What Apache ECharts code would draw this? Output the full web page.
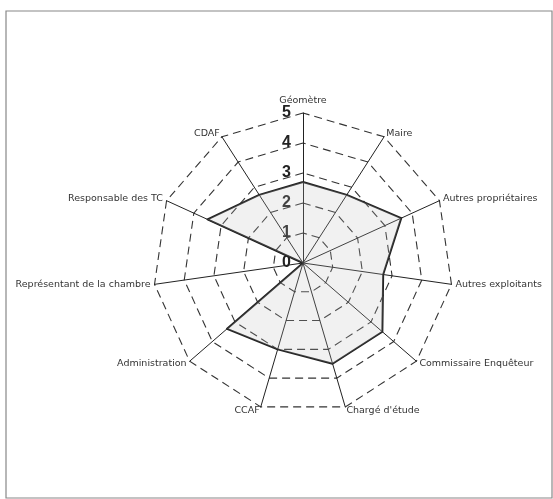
<!DOCTYPE html>
<html>
<head>
<meta charset="utf-8">
<script src="https://cdn.jsdelivr.net/npm/echarts@6/dist/echarts.min.js"></script>
<style>
html,body{margin:0;padding:0;background:#fff;}
#chart{width:553px;height:499px;}
</style>
</head>
<body>
<div id="chart"></div>
<script>
var categories = ["Géomètre", "Maire", "Autres propriétaires", "Autres exploitants", "Commissaire Enquêteur", "Chargé d'étude", "CCAF", "Administration", "Représentant de la chambre", "Responsable des TC", "CDAF"];
var values = [2.7, 2.7, 3.6, 2.7, 3.5, 3.5, 3.0, 3.35, 0, 3.5, 2.7];
var scaleMax = 5;

// ECharts radar runs counter-clockwise; reorder so categories run clockwise
var order = [0];
for (var k = categories.length - 1; k >= 1; k--) order.push(k);

var chart = echarts.init(document.getElementById('chart'), null, {renderer: 'canvas'});

var indicators = order.map(function (i) {
  var ind = {name: categories[i], min: 0, max: scaleMax};
  if (i === 0) {
    ind.axisLabel = {show: true, fontSize: 16, fontWeight: 'bold', color: '#222', fontFamily: 'Liberation Sans', margin: 0, align: 'right', verticalAlign: 'middle', padding: [0, 12, 0, 0]};
  }
  return ind;
});
var orderedValues = order.map(function (i) { return values[i]; });

chart.setOption({
  backgroundColor: '#fff',
  animation: false,
  graphic: [{
    type: 'rect',
    shape: {x: 6, y: 11, width: 546, height: 487},
    style: {fill: 'none', stroke: '#888', lineWidth: 1.2}
  }],
  radar: {
    center: [303, 263],
    radius: 150,
    startAngle: 90,
    splitNumber: 5,
    shape: 'polygon',
    nameGap: 4,
    axisName: {color: '#333', fontSize: 9.5, fontFamily: 'DejaVu Sans'},
    axisLine: {lineStyle: {color: '#222', width: 1}},
    axisTick: {show: false},
    axisLabel: {show: false},
    splitLine: {lineStyle: {color: '#333', width: 1.1, type: [8, 5]}},
    splitArea: {show: false},
    indicator: indicators
  },
  series: [{
    type: 'radar',
    symbol: 'none',
    lineStyle: {color: '#222', width: 2},
    areaStyle: {color: 'rgba(190,190,190,0.3)'},
    data: [{value: orderedValues}]
  }]
});
</script>
</body>
</html>
